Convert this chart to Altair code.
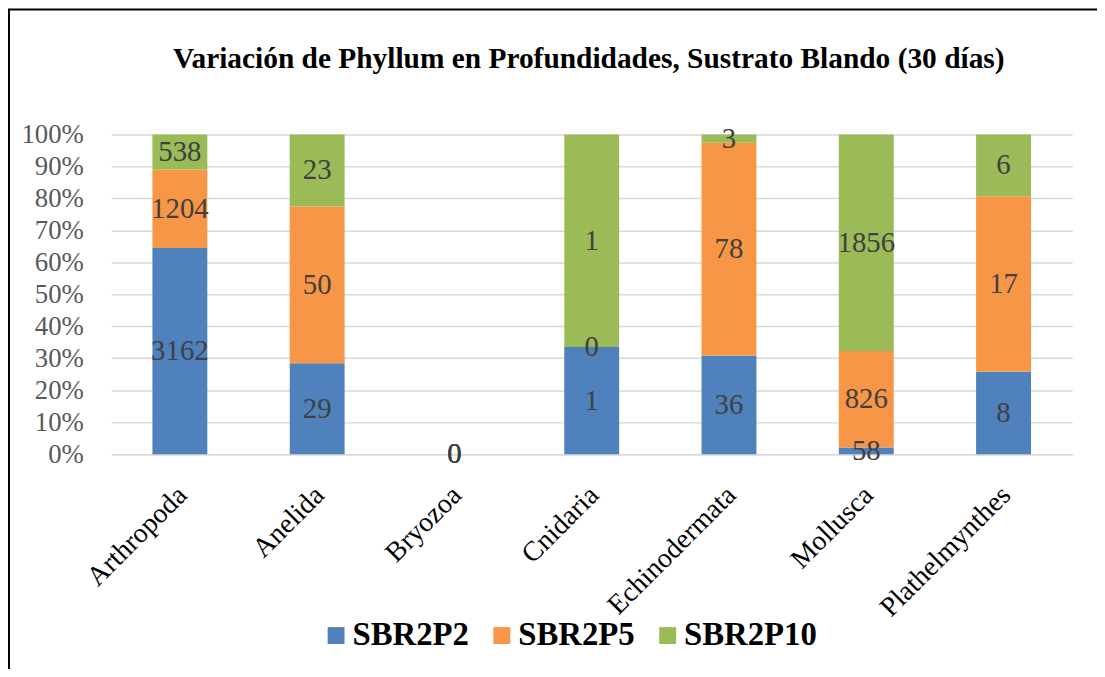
import altair as alt
import pandas as pd

categories = ["Arthropoda", "Anelida", "Bryozoa", "Cnidaria", "Echinodermata", "Mollusca", "Plathelmynthes"]
series = ["SBR2P2", "SBR2P5", "SBR2P10"]
sbr2p2 = [3162, 29, 0, 0.67, 36, 58, 8]
sbr2p5 = [1204, 50, 0, 0, 78, 826, 17]
sbr2p10 = [538, 23, 0, 1.33, 3, 1856, 6]
colors = ["#4F81BD", "#F79646", "#9BBB59"]
y_ticks = [0, 0.1, 0.2, 0.3, 0.4, 0.5, 0.6, 0.7, 0.8, 0.9, 1.0]
title_text = "Variación de Phyllum en Profundidades, Sustrato Blando (30 días)"

rows = []
for i, c in enumerate(categories):
    for j, (s, vals) in enumerate(zip(series, [sbr2p2, sbr2p5, sbr2p10])):
        rows.append({"cat": c, "series": s, "order": j, "value": vals[i]})
df = pd.DataFrame(rows)

SERIF = "Liberation Serif"

base = (
    alt.Chart(df)
    .transform_stack(stack="value", groupby=["cat"], as_=["y0", "y1"],
                     offset="normalize", sort=[alt.SortField("order", "ascending")])
    .transform_calculate(y0c="isFinite(datum.y0) ? datum.y0 : 0")
    .transform_calculate(y1c="isFinite(datum.y1) ? datum.y1 : 0")
    .transform_calculate(mid="(datum.y0c + datum.y1c) / 2")
)

x_axis = alt.Axis(labelAngle=-45, labelAlign="right", labelBaseline="top",
                  labelFont=SERIF, labelFontSize=28, labelColor="black",
                  ticks=False, domainColor="#D9D9D9", domainWidth=1.5,
                  labelPadding=27, labelOffset=-7, labelOverlap=False)
y_axis = alt.Axis(format=".0%", values=y_ticks, grid=True,
                  gridColor="#D9D9D9", gridWidth=1.5, domain=False,
                  ticks=False, labelFont=SERIF, labelFontSize=27,
                  labelColor="#595959", labelPadding=28, labelOverlap=False)
x_scale = alt.Scale(paddingInner=0.6, paddingOuter=0.3)
y_scale = alt.Scale(domain=[0, 1])

bars = base.mark_bar().encode(
    x=alt.X("cat:N", sort=categories, title=None, scale=x_scale, axis=x_axis),
    y=alt.Y("y0c:Q", scale=y_scale, title=None, axis=y_axis),
    y2="y1c:Q",
    color=alt.Color(
        "series:N", scale=alt.Scale(domain=series, range=colors),
        legend=alt.Legend(title=None, orient="none", legendX=210, legendY=488,
                          direction="horizontal", columns=3,
                          symbolType="square", symbolSize=289,
                          symbolStrokeWidth=0, labelFont=SERIF,
                          labelFontSize=33, labelFontWeight="bold",
                          labelColor="black", columnPadding=16,
                          labelOffset=0, padding=0),
    ),
)

labels = base.mark_text(font=SERIF, fontSize=29, color="#404040",
                        baseline="middle", align="center").encode(
    x=alt.X("cat:N", sort=categories, title=None, scale=x_scale, axis=x_axis),
    y=alt.Y("mid:Q", scale=y_scale, title=None, axis=y_axis),
    text=alt.Text("value:Q", format=".0f"),
)

frame = alt.Chart(pd.DataFrame({"f": [0]})).mark_rect(
    filled=False, stroke="black", strokeWidth=2
).encode(
    x=alt.value(-103), x2=alt.value(3000),
    y=alt.value(-126), y2=alt.value(3000),
)

chart = (
    alt.layer(bars, labels, frame)
    .properties(
        width=968, height=322,
        title=alt.TitleParams(text=title_text, font=SERIF, fontSize=29.6,
                              fontWeight="bold", color="black",
                              anchor="middle", frame="group", dx=-3,
                              offset=-67),
        autosize=alt.AutoSizeParams(type="none"),
        padding={"left": 104, "top": 125, "right": 25, "bottom": 214},
    )
    .configure_view(stroke=None)
)

chart.save("out.html", embed_options={"renderer": "svg", "actions": False})
